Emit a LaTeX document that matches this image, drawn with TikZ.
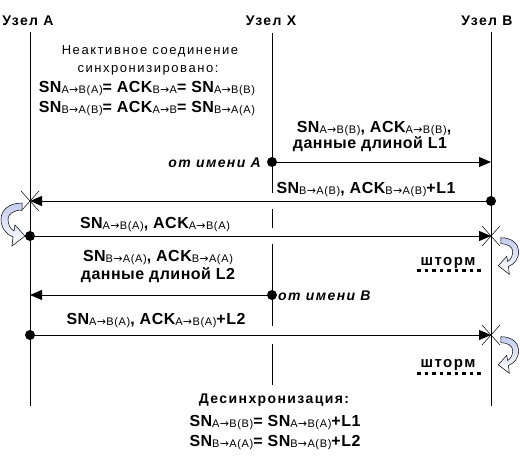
\documentclass[tikz,border=0pt]{standalone}
\usepackage{fontspec}
\setmainfont{Liberation Sans}
\newfontfamily\lsA[LetterSpace=10]{Liberation Sans}
\newfontfamily\lsB[LetterSpace=12]{Liberation Sans}
\newfontfamily\lsC[LetterSpace=3]{Liberation Sans}
\newfontfamily\lsD[LetterSpace=6]{Liberation Sans}
\newfontfamily\arrf{DejaVu Sans}
\usetikzlibrary{arrows.meta}
\newcommand\fHead{\lsA\bfseries\fontsize{14}{16}\selectfont}
\newcommand\fReg{\lsB\mdseries\fontsize{13}{15}\selectfont}
\newcommand\fSN{\lsC\bfseries\fontsize{16}{18}\selectfont}
\newcommand\fIt{\lsA\bfseries\itshape\fontsize{14}{16}\selectfont}
\newcommand\fStorm{\lsA\bfseries\fontsize{15}{17}\selectfont}
\newcommand\subx[1]{\raisebox{-1.5pt}{\lsD\mdseries\fontsize{11}{13}\selectfont #1}}
\newcommand\ar{{\arrf\mdseries\kern0.3pt→\kern0.3pt}}
\definecolor{lav}{RGB}{196,204,240}
\tikzset{
  curvarr/.pic={
    \shadedraw[top color=lav,middle color=lav!75,bottom color=white,draw=black,line width=0.5pt]
      (-8,2) .. controls (-22,2) and (-29,10) .. (-29,18)
      .. controls (-29,27) and (-24,33) .. (-17,36)
      -- (-18,45) -- (-5,35) -- (-15,24) -- (-16,30)
      .. controls (-20,28) and (-22,23) .. (-22,18)
      .. controls (-22,13) and (-16,9) .. (-8,9) -- cycle;
  }
}
\begin{document}
\begin{tikzpicture}[x=1pt,y=-1pt,
  lifeline/.style={line width=0.9pt},
  msg/.style={line width=0.9pt,-{Triangle[length=12pt,width=10pt]}},
  dotn/.style={circle,fill=black,inner sep=0pt,minimum size=10pt},
  lbl/.style={inner sep=0pt,anchor=base},
  xmark/.style={line width=0.5pt},
  storm/.style={line width=3pt,dash pattern=on 3.5pt off 4pt}]
\useasboundingbox (0,0) rectangle (520,466);

% headers
\node[lbl,font=\fHead] (hA) at (28,25) {Узел A};
\node[lbl,font=\fHead] (hX) at (271,25) {Узел X};
\node[lbl,font=\fHead] (hB) at (487,25) {Узел B};

% lifelines
\coordinate (At) at (30,32);  \coordinate (Ab) at (30,406);
\coordinate (Bt) at (491,32); \coordinate (Bb) at (491,406);
\coordinate (Xt) at (272,33); \coordinate (Xg1) at (272,193);
\coordinate (Xg2) at (272,209); \coordinate (Xg3) at (272,228);
\coordinate (Xg4) at (272,244); \coordinate (Xg5) at (272,326);
\coordinate (Xg6) at (272,344); \coordinate (Xb) at (272,385);
\draw[lifeline] (At) -- (Ab);
\draw[lifeline] (Bt) -- (Bb);
\draw[lifeline] (Xt) -- (Xg1) (Xg2) -- (Xg3) (Xg4) -- (Xg5) (Xg6) -- (Xb);

% top text
\node[lbl,font=\fReg] (t1) at (150,54) {Неактивное соединение};
\node[lbl,font=\fReg] (t2) at (148,72) {синхронизировано:};
\node[lbl,font=\fSN] (t3) at (147,92) {SN\subx{A\ar B(A)}= ACK\subx{B\ar A}= SN\subx{A\ar B(B)}};
\node[lbl,font=\fSN] (t4) at (147,112) {SN\subx{B\ar A(B)}= ACK\subx{A\ar B}= SN\subx{B\ar A(A)}};

% message points
\coordinate (X1) at (272,162); \coordinate (B1) at (491,162);
\coordinate (B2) at (491,201); \coordinate (A2) at (30,201);
\coordinate (A3) at (30,236);  \coordinate (B3) at (491,236);
\coordinate (X4) at (272,295); \coordinate (A4) at (30,295);
\coordinate (A5) at (30,335);  \coordinate (B5) at (491,335);

% message 1
\node[lbl,font=\fSN] (m1a) at (374,132) {SN\subx{A\ar B(B)}, ACK\subx{A\ar B(B)},};
\node[lbl,font=\fSN] (m1b) at (370,148) {данные длиной L1};
\node[lbl,font=\fIt,anchor=base east] (m1c) at (261,167) {от имени A};
\draw[msg] (X1) -- (B1);
\node[dotn] (dX1) at (X1) {};

% message 2
\node[lbl,font=\fSN] (m2a) at (366,193) {SN\subx{B\ar A(B)}, ACK\subx{B\ar A(B)}+L1};
\draw[msg] (B2) -- (A2);
\node[dotn] (dB2) at (B2) {};
\draw[xmark] (A2) ++(-9,-10) -- ++(18,20);
\draw[xmark] (A2) ++(-9,10) -- ++(18,-20);
\pic at (A2) {curvarr};

% message 3
\node[lbl,font=\fSN] (m3a) at (155,228) {SN\subx{A\ar B(A)}, ACK\subx{A\ar B(A)}};
\draw[msg] (A3) -- (B3);
\node[dotn] (dA3) at (A3) {};
\draw[xmark] (B3) ++(-9,-10) -- ++(18,20);
\draw[xmark] (B3) ++(-9,10) -- ++(18,-20);
\pic[xscale=-0.85,yscale=0.85] at ([xshift=3pt]B3) {curvarr};

% storm 1
\node[lbl,font=\fStorm] (st1) at (448,265) {шторм};
\coordinate (s1a) at (417,270); \coordinate (s1b) at (483,270);
\draw[storm] (s1a) -- (s1b);

% message 4
\node[lbl,font=\fSN] (m4a) at (158,261) {SN\subx{B\ar A(A)}, ACK\subx{B\ar A(A)}};
\node[lbl,font=\fSN] (m4b) at (158,279) {данные длиной L2};
\node[lbl,font=\fIt,anchor=base west] (m4c) at (278,300) {от имени B};
\draw[msg] (X4) -- (A4);
\node[dotn] (dX4) at (X4) {};

% message 5
\node[lbl,font=\fSN] (m5a) at (156,324) {SN\subx{A\ar B(A)}, ACK\subx{A\ar B(A)}+L2};
\draw[msg] (A5) -- (B5);
\node[dotn] (dA5) at (A5) {};
\draw[xmark] (B5) ++(-9,-10) -- ++(18,20);
\draw[xmark] (B5) ++(-9,10) -- ++(18,-20);
\pic[xscale=-0.85,yscale=0.85] at ([xshift=3pt]B5) {curvarr};

% storm 2
\node[lbl,font=\fStorm] (st2) at (448,367) {шторм};
\coordinate (s2a) at (417,373); \coordinate (s2b) at (483,373);
\draw[storm] (s2a) -- (s2b);

% bottom
\node[lbl,font=\fHead] (b1) at (274,403) {Десинхронизация:};
\node[lbl,font=\fSN] (b2) at (275,426) {SN\subx{A\ar B(B)}= SN\subx{A\ar B(A)}+L1};
\node[lbl,font=\fSN] (b3) at (275,446) {SN\subx{B\ar A(A)}= SN\subx{B\ar A(B)}+L2};
\end{tikzpicture}
\end{document}
